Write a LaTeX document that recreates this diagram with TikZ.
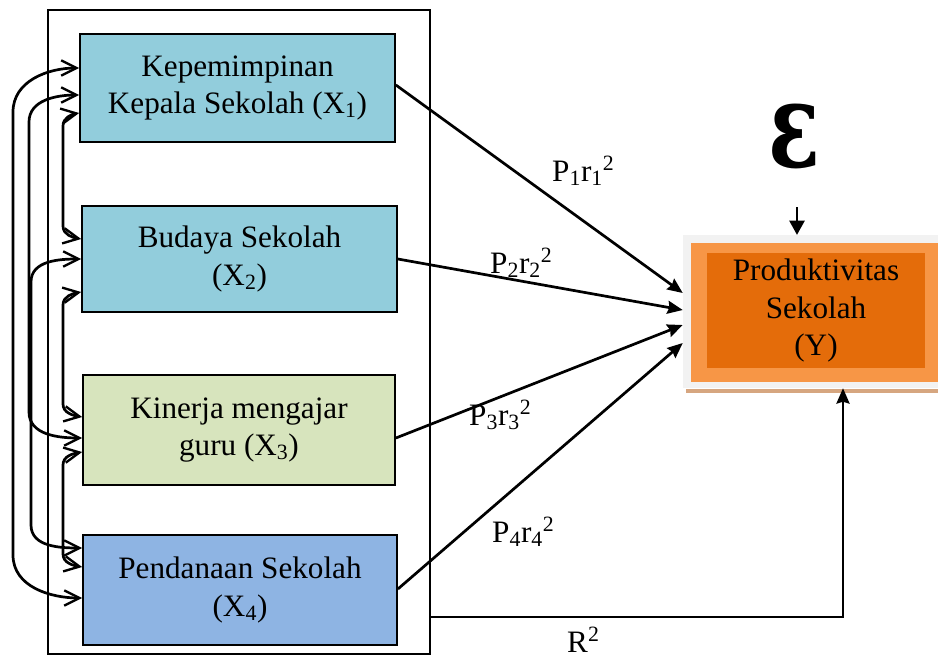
\documentclass[tikz,border=0pt]{standalone}
\usepackage{fontspec}
\setmainfont{Liberation Serif}
\newfontfamily\epsfont{DejaVu Serif}
\usetikzlibrary{arrows.meta}
\definecolor{xblue}{RGB}{146,205,220}
\definecolor{xgreen}{RGB}{215,228,189}
\definecolor{xsteel}{RGB}{142,180,227}
\definecolor{yglowc}{RGB}{242,242,242}
\definecolor{ylight}{RGB}{247,150,70}
\definecolor{ydark}{RGB}{228,108,10}
\definecolor{ybrown}{RGB}{214,166,128}
\begin{document}
\begin{tikzpicture}[x=0.85pt,y=-0.85pt,
  txt/.style={font=\fontsize{26.5}{31.5}\selectfont},
  box/.style={txt,draw=black,line width=1.5pt,align=center,inner sep=0pt},
  lbl/.style={txt,inner sep=0pt,anchor=base west},
  corr/.style={line width=2.3pt,
    {Straight Barb[length=13pt,width=13pt,line width=2pt]}-{Straight Barb[length=13pt,width=13pt,line width=2pt]}},
  pth/.style={line width=2.3pt,-{Stealth[length=13pt,width=11pt,inset=1.5pt]}},
  epsarr/.style={line width=1.3pt,-{Triangle[length=12pt,width=13pt]}}]
\useasboundingbox (0,0) rectangle (938,657);
\fill[white] (0,0) rectangle (938,657);
% outer frame
\node[draw,line width=1.6pt,minimum width=324.7pt,minimum height=547.4pt,inner sep=0pt] (frame) at (239,332) {};
% boxes
\node[box,fill=xblue,minimum width=267.75pt,minimum height=91.8pt] (x1) at (237.5,88) {Kepemimpinan\\Kepala Sekolah (X\textsubscript{1})};
\node[box,fill=xblue,minimum width=267.75pt,minimum height=90.1pt] (x2) at (239.5,259) {Budaya Sekolah\\(X\textsubscript{2})};
\node[box,fill=xgreen,minimum width=265.2pt,minimum height=93.5pt] (x3) at (239,430) {Kinerja mengajar\\guru (X\textsubscript{3})};
\node[box,fill=xsteel,minimum width=266.9pt,minimum height=93.5pt] (x4) at (240,590) {Pendanaan Sekolah\\(X\textsubscript{4})};
% Y box
\fill[ybrown] (686,389) rectangle (938,393);
\node[fill=yglowc,minimum width=216.75pt,minimum height=130pt,inner sep=0pt] (yglow) at (810.5,311.5) {};
\fill[ylight] (691,243) rectangle (938,382);
\node[txt,fill=ydark,align=center,minimum width=185.3pt,minimum height=97.75pt,inner sep=0pt] (Y) at (816,310.5) {Produktivitas\\Sekolah\\(Y)};
% epsilon
\node[inner sep=0pt] (eps) at (794,136.5) {\resizebox{44pt}{54pt}{\epsfont\bfseries ε}};
\coordinate (e0) at (797,207);
\draw[epsarr] (e0) -- (yglow.north -| e0);
% correlations
\draw[corr] (x1.west |- 0,68) to[out=180,in=90] (13,112) -- (13,555) to[out=-90,in=180] (x4.west |- 0,598);
\draw[corr] (x1.west |- 0,95) to[out=180,in=90] (29,122) -- (29,412) to[out=-90,in=180] (x3.west |- 0,438);
\draw[corr] (x2.west |- 0,259) to[out=180,in=90] (31,282) -- (31,525) to[out=-90,in=180] (x4.west |- 0,548);
\draw[corr] (x1.west |- 0,113) to[out=190,in=90] (63,126) -- (63,226) to[out=-90,in=170] (x2.west |- 0,239);
\draw[corr] (x2.west |- 0,292) to[out=190,in=90] (63,305) -- (63,404) to[out=-90,in=170] (x3.west |- 0,417);
\draw[corr] (x3.west |- 0,452) to[out=190,in=90] (63,465) -- (63,554) to[out=-90,in=170] (x4.west |- 0,567);
% paths
\draw[pth] (x1.east |- 0,85) -- (yglow.west |- 0,293);
\draw[pth] (x2.east |- 0,259) -- (yglow.west |- 0,310);
\draw[pth] (x3.east |- 0,438) -- (yglow.west |- 0,325);
\draw[pth] (x4.east |- 0,589) -- (yglow.west |- 0,343);
\draw[pth] (frame.east |- 0,617) -| (yglow.south -| 843,0);
% labels
\node[lbl] (l1) at (552,181) {P\textsubscript{1}r\textsubscript{1}\textsuperscript{2}};
\node[lbl] (l2) at (490,273) {P\textsubscript{2}r\textsubscript{2}\textsuperscript{2}};
\node[lbl] (l3) at (469,425) {P\textsubscript{3}r\textsubscript{3}\textsuperscript{2}};
\node[lbl] (l4) at (492,542) {P\textsubscript{4}r\textsubscript{4}\textsuperscript{2}};
\node[lbl] (l5) at (567,652) {R\textsuperscript{2}};
\end{tikzpicture}
\end{document}
